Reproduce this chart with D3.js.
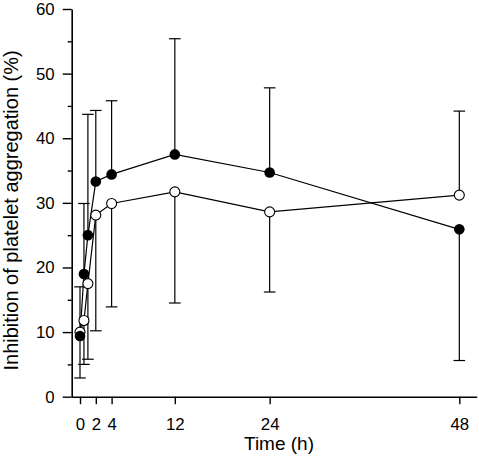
<!DOCTYPE html>
<html><head><meta charset="utf-8">
<script src="https://cdn.jsdelivr.net/npm/d3@7"></script>
<style>body{margin:0;background:#fff}svg{display:block}text{font-family:"Liberation Sans",Arial,sans-serif;fill:#000}</style>
</head><body><svg id="c" width="479" height="464"></svg>
<script>
const times = [0, 0.5, 1, 2, 4, 12, 24, 48];
const filledVals = [9.4, 19.0, 25.0, 33.3, 34.4, 37.5, 34.7, 25.9];
const openVals = [10.0, 11.8, 17.5, 28.1, 29.9, 31.7, 28.6, 31.2];
const filledSD = [6.5, 10.9, 18.7, 11.0, 11.4, 17.9, 13.1, 20.3];
const openSD = [7.0, 6.8, 11.7, 17.9, 16.0, 17.2, 12.4, 13.0];
const xTicks = [0, 2, 4, 12, 24, 48];
const yTicks = [0, 10, 20, 30, 40, 50, 60];
const yMinorTicks = [5, 15, 25, 35, 45, 55];
const xTitle = "Time (h)";
const yTitle = "Inhibition of platelet aggregation (%)";

const svg = d3.select("#c");
const x = d3.scaleLinear().domain([-1.05, 50.2]).range([71.7, 476.7]);
const y = d3.scaleLinear().domain([0, 60]).range([396.7, 9]);

// axes
svg.append("g").attr("transform", `translate(0,${y(0)})`)
  .call(d3.axisBottom(x).tickValues(xTicks).tickSize(7.5).tickSizeOuter(0).tickPadding(14));
svg.append("g").attr("transform", `translate(${x(-1.05)},0)`)
  .call(d3.axisLeft(y).tickValues(yTicks).tickSize(9).tickSizeOuter(0).tickPadding(8));
svg.append("g").attr("transform", `translate(${x(-1.05)},0)`)
  .call(d3.axisLeft(y).tickValues(yMinorTicks).tickSize(4).tickSizeOuter(0).tickFormat(""))
  .select(".domain").remove();
svg.selectAll(".domain").attr("stroke", "#000").attr("stroke-width", 1.6);
svg.selectAll(".tick line").attr("stroke", "#000").attr("stroke-width", 1.4);
svg.selectAll(".tick text").style("font-size", "16.8px").attr("font-family", "Liberation Sans, Arial, sans-serif");

svg.append("text").attr("x", 279).attr("y", 450).attr("text-anchor", "middle")
  .style("font-size", "19px").text(xTitle);
svg.append("text").attr("transform", `translate(17.5,370.5) rotate(-90)`).attr("text-anchor", "start")
  .style("font-size", "20px").text(yTitle);

// error bars: the upper series gets upward bar, lower series downward
const cap = 5.8;
const eb = svg.append("g").attr("stroke", "#000").attr("stroke-width", 1.2);
times.forEach((t, i) => {
  const fUp = filledVals[i] >= openVals[i];
  const items = [
    {v: filledVals[i], sd: filledSD[i], dir: fUp ? 1 : -1},
    {v: openVals[i], sd: openSD[i], dir: fUp ? -1 : 1}
  ];
  items.forEach(it => {
    const end = it.v + it.dir * it.sd;
    eb.append("line").attr("x1", x(t)).attr("x2", x(t)).attr("y1", y(it.v)).attr("y2", y(end));
    eb.append("line").attr("x1", x(t) - cap).attr("x2", x(t) + cap).attr("y1", y(end)).attr("y2", y(end));
  });
});

const line = d3.line().x(d => x(d[0])).y(d => y(d[1]));
const fData = times.map((t, i) => [t, filledVals[i]]);
const oData = times.map((t, i) => [t, openVals[i]]);
svg.append("path").datum(fData).attr("d", line).attr("fill", "none").attr("stroke", "#000").attr("stroke-width", 1.2);
svg.append("path").datum(oData).attr("d", line).attr("fill", "none").attr("stroke", "#000").attr("stroke-width", 1.2);

svg.append("g").selectAll("circle").data(oData).join("circle")
  .attr("cx", d => x(d[0])).attr("cy", d => y(d[1])).attr("r", 5)
  .attr("fill", "#fff").attr("stroke", "#000").attr("stroke-width", 1.1);
svg.append("g").selectAll("circle").data(fData).join("circle")
  .attr("cx", d => x(d[0])).attr("cy", d => y(d[1])).attr("r", 5.3)
  .attr("fill", "#000");
</script></body></html>
